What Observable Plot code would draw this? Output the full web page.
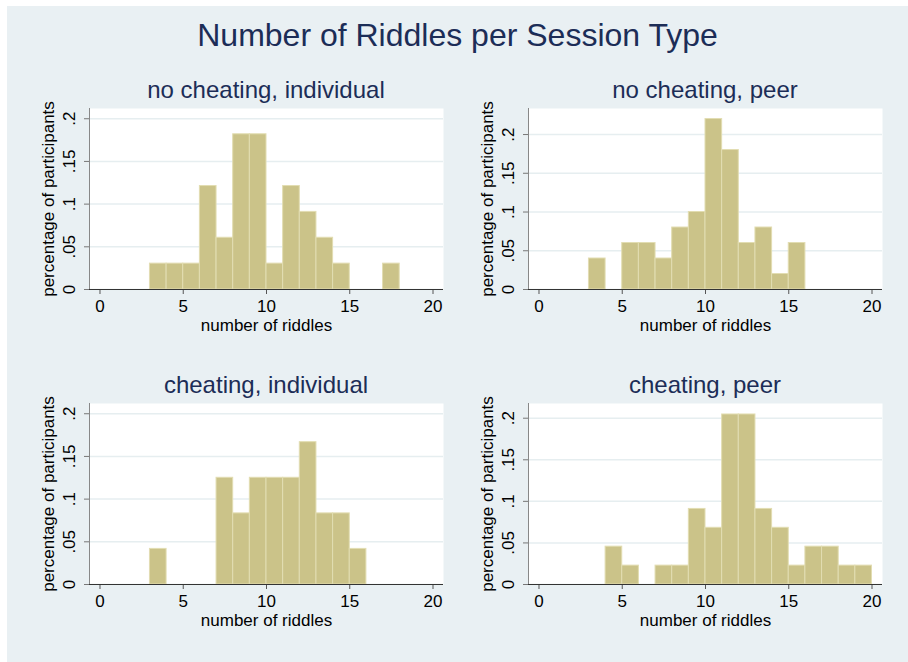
<!DOCTYPE html>
<html><head><meta charset="utf-8">
<script src="https://cdn.jsdelivr.net/npm/d3@7"></script>
<script src="https://cdn.jsdelivr.net/npm/@observablehq/plot@0.6"></script>
<style>
html,body{margin:0;padding:0;background:#fff;}
#root{position:relative;width:908px;height:662px;overflow:hidden;font-family:"Liberation Sans",Arial,sans-serif;}
#bg{position:absolute;left:7px;top:6px;right:0;bottom:0;background:#e9f0f3;}
.t{position:absolute;text-align:center;line-height:1;color:#1c2d57;white-space:nowrap;}
.panel{position:absolute;}
.panel svg{overflow:visible;}
</style></head><body>
<div id="root"><div id="bg"></div></div>
<script>
const chartTitle = "Number of Riddles per Session Type";
const panelTitles = ["no cheating, individual", "no cheating, peer", "cheating, individual", "cheating, peer"];
const xLabel = "number of riddles";
const yLabel = "percentage of participants";
const xTicks = [0, 5, 10, 15, 20];
const yTicks = [0, 0.05, 0.1, 0.15, 0.2];
const yTickLabels = ["0", ".05", ".1", ".15", ".2"];
const binWidth = 1;

const noCheatIndivBins = [3, 4, 5, 6, 7, 8, 9, 10, 11, 12, 13, 14, 17];
const noCheatIndivShare = [0.0303, 0.0303, 0.0303, 0.1212, 0.0606, 0.1818, 0.1818, 0.0303, 0.1212, 0.0909, 0.0606, 0.0303, 0.0303];
const noCheatPeerBins = [3, 5, 6, 7, 8, 9, 10, 11, 12, 13, 14, 15];
const noCheatPeerShare = [0.04, 0.06, 0.06, 0.04, 0.08, 0.10, 0.22, 0.18, 0.06, 0.08, 0.02, 0.06];
const cheatIndivBins = [3, 7, 8, 9, 10, 11, 12, 13, 14, 15];
const cheatIndivShare = [0.0417, 0.125, 0.0833, 0.125, 0.125, 0.125, 0.1667, 0.0833, 0.0833, 0.0417];
const cheatPeerBins = [4, 5, 7, 8, 9, 10, 11, 12, 13, 14, 15, 16, 17, 18, 19];
const cheatPeerShare = [0.0455, 0.0227, 0.0227, 0.0227, 0.0909, 0.0682, 0.2045, 0.2045, 0.0909, 0.0682, 0.0227, 0.0455, 0.0455, 0.0227, 0.0227];

const panelYMax = [0.212, 0.2336, 0.212, 0.2177];
const xDomain = [-0.63, 20.63];

const panels = [
  {bins: noCheatIndivBins, share: noCheatIndivShare},
  {bins: noCheatPeerBins, share: noCheatPeerShare},
  {bins: cheatIndivBins, share: cheatIndivShare},
  {bins: cheatPeerBins, share: cheatPeerShare}
];
const positions = [[0, 100], [439, 100], [0, 395], [439, 395]];

const root = document.getElementById("root");

const title = document.createElement("div");
title.className = "t";
title.textContent = chartTitle;
Object.assign(title.style, {left: "7px", width: "901px", top: "19px", fontSize: "32px"});
root.appendChild(title);

panels.forEach((p, i) => {
  const [px, py] = positions[i];
  const data = p.bins.map((b, j) => ({x1: b, x2: b + binWidth, y: p.share[j]}));
  const chart = Plot.plot({
    width: 454, height: 240,
    marginLeft: 89, marginRight: 11, marginTop: 8, marginBottom: 51,
    x: {domain: xDomain},
    y: {domain: [0, panelYMax[i]]},
    style: {fontFamily: '"Liberation Sans", Arial, sans-serif', fontSize: "17px", color: "black", background: "transparent"},
    marks: [
      Plot.frame({fill: "white", stroke: null}),
      Plot.gridY(yTicks, {stroke: "#e6eef0", strokeOpacity: 1, strokeWidth: 1.5}),
      Plot.rectY(data, {x1: "x1", x2: "x2", y: "y", fill: "#cbc389", stroke: "#e2ddb2", strokeWidth: 1}),
      Plot.axisX({ticks: xTicks, tickSize: 5, tickPadding: 5, stroke: "#555", label: xLabel, labelAnchor: "center", labelOffset: 41, labelArrow: "none"}),
      Plot.axisY({ticks: yTicks, tickFormat: (d) => yTickLabels[yTicks.indexOf(d)], tickRotate: -90, tickSize: 5, tickPadding: 10, stroke: "#777", label: yLabel, labelAnchor: "center", labelOffset: 48, labelArrow: "none"}),
      Plot.ruleX([xDomain[0]], {stroke: "#888"}),
      Plot.ruleY([0], {stroke: "#333"})
    ]
  });
  const wrap = document.createElement("div");
  wrap.className = "panel";
  wrap.style.left = px + "px";
  wrap.style.top = py + "px";
  wrap.appendChild(chart);
  root.appendChild(wrap);

  const st = document.createElement("div");
  st.className = "t";
  st.textContent = panelTitles[i];
  Object.assign(st.style, {left: (px + 89) + "px", width: "354px", top: (py - 22.3) + "px", fontSize: "24px"});
  root.appendChild(st);
});
</script>
</body></html>
